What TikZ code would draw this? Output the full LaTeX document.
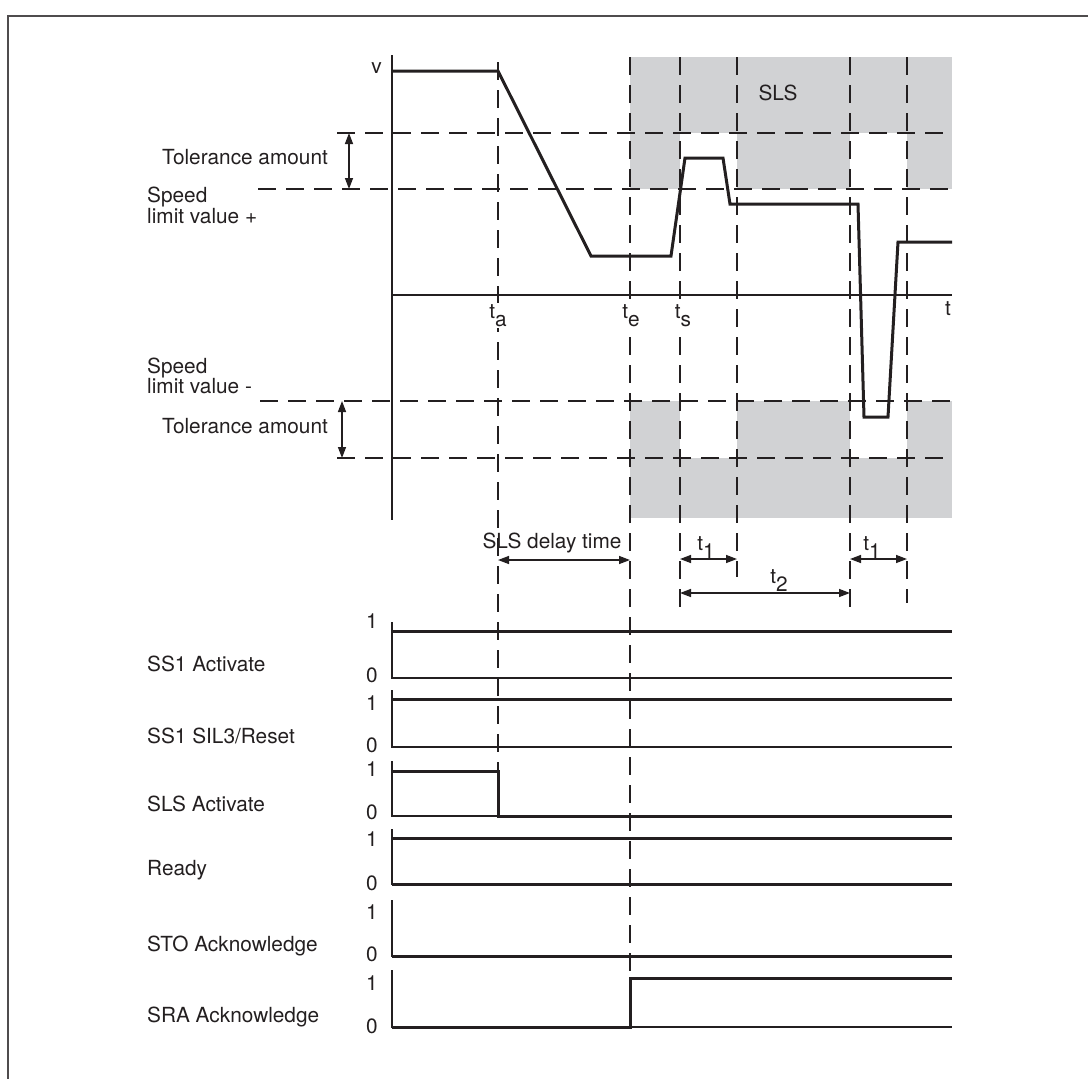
\documentclass[tikz,border=0pt]{standalone}
\usepackage{fontspec}
\setmainfont{TeX Gyre Heros}
\usetikzlibrary{arrows.meta}
\definecolor{ink}{RGB}{35,31,32}
\definecolor{slsgray}{RGB}{209,210,212}
\tikzset{
every node/.style={font=\fontsize{20.8}{21}\selectfont,text=ink,inner sep=0pt},
axis/.style={line width=1.4pt,draw=ink},
signal/.style={line width=3pt,draw=ink,line join=miter},
guide/.style={line width=1.4pt,draw=ink,dash pattern=on 18pt off 10pt},
dim/.style={line width=1.4pt,draw=ink,
{Triangle[length=11pt,width=8pt]}-{Triangle[length=11pt,width=8pt]}},
tlabel/.style={anchor=base,fill=white,inner sep=1pt}
}
\newcommand{\tsub}[2]{#1\raisebox{-0.4em}{#2}}
\begin{document}
\begin{tikzpicture}[x=1pt,y=-1pt]
\useasboundingbox (0,0) rectangle (1088,1079);

% Cadre
\draw[line width=1.5pt,draw=ink!80] (8,1079) -- (8,16) -- (1088,16);

% Zones SLS
\foreach \xa/\ya/\xb/\yb in {
630/57/952/133,630/133/680/189,737/133/850/189,907/133/952/189,
630/401/680/458,737/401/850/458,907/401/952/458,630/458/952/518}
{
\fill[slsgray] (\xa,\ya) rectangle (\xb,\yb);
}

\node (sls) at (778,93) {SLS};

% Limites de vitesse
\draw[guide] (337,133) -- (952,133);
\draw[guide] (258,189) -- (952,189);
\draw[guide] (260,401) -- (952,401);
\draw[guide] (337,458) -- (952,458);

% Reperes de temps
\foreach \x/\ya/\yb in {
498/62/771,630/57/978,680/57/607,
737/57/577,850/57/610,907/57/603}
{
\draw[guide] (\x,\ya) -- (\x,\yb);
}

% Axes vitesse / temps
\draw[axis] (392,55) -- (392,520);
\draw[axis] (392,295) -- (952,295);
\node[anchor=base east] (v) at (382,73) {v};
\node[anchor=base] (t) at (948,315) {t};
\node[tlabel] (ta) at (498,318) {\tsub{t}{a}};
\node[tlabel] (te) at (631,318) {\tsub{t}{e}};
\node[tlabel] (ts) at (683,318) {\tsub{t}{s}};

% Courbe de vitesse
\draw[signal] (392,71) -- (498,71) -- (591,256) -- (671,256)
-- (685,158) -- (723,158) -- (730,204) -- (858,204)
-- (864,417) -- (888,417) -- (898,242) -- (952,242);

% Tolerances
\draw[dim] (349,133) -- (349,189);
\draw[dim] (342,401) -- (342,458);
\node[anchor=base west] (tol1) at (162,164) {Tolerance amount};
\node[anchor=base west] (spd1) at (147,202) {Speed};
\node[anchor=base west] (lim1) at (147,223) {limit value +};
\node[anchor=base west] (spd2) at (147,373) {Speed};
\node[anchor=base west] (lim2) at (147,393) {limit value -};
\node[anchor=base west] (tol2) at (162,433) {Tolerance amount};

% Durees
\draw[dim] (498,560) -- (630,560);
\node[anchor=base] (delay) at (552,548) {SLS delay time};
\draw[dim] (680,559) -- (737,559);
\node[anchor=base] (t1a) at (706,550) {\tsub{t}{1}};
\draw[dim] (850,559) -- (907,559);
\node[anchor=base] (t1b) at (872,550) {\tsub{t}{1}};
\draw[dim] (680,593) -- (850,593);
\node[anchor=base] (t2) at (779,583) {\tsub{t}{2}};

% Signaux
\foreach \lab/\ly/\top/\zero/\one/\nil in {
SS1 Activate/671/622/678/628/682,
{SS1 SIL3/Reset}/743/690/747/710/752,
SLS Activate/811/761/816/776/819,
Ready/875/829/884/846/890,
STO Acknowledge/951/900/956/919/961,
SRA Acknowledge/1022/970/1027/990/1033}
{
\draw[axis] (392,\top) -- (392,\zero) -- (952,\zero);
\node[anchor=base west] at (147,\ly) {\lab};
\node[anchor=base east] at (378,\one) {1};
\node[anchor=base east] at (378,\nil) {0};
}

\draw[signal] (392,631) -- (952,631);
\draw[signal] (392,699) -- (952,699);
\draw[signal] (392,771) -- (498,771) -- (498,816) -- (952,816);
\draw[signal] (392,838) -- (952,838);
\draw[signal] (392,884) -- (952,884);
\draw[signal] (392,956) -- (952,956);
\draw[signal] (392,1027) -- (630,1027) -- (630,978) -- (952,978);

\end{tikzpicture}
\end{document}
